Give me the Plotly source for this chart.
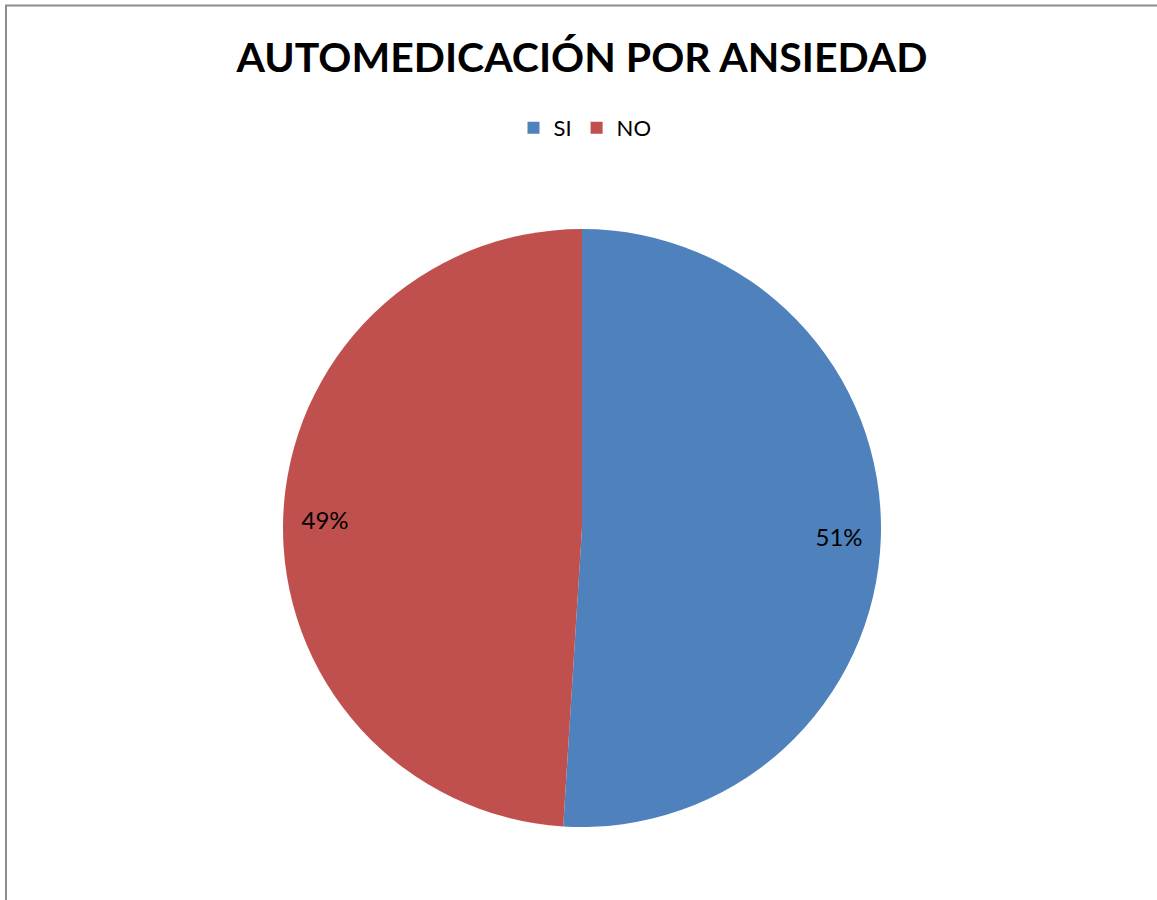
import plotly.graph_objects as go

categories = ["SI", "NO"]
values = [51, 49]
colors = ["#4F81BD", "#C0504D"]
title_text = "AUTOMEDICACIÓN POR ANSIEDAD"

W, H = 1157, 900
FONT = "Lato, Carlito, sans-serif"
dom = dict(x=[283 / W, 881 / W], y=[1 - 827 / H, 1 - 229 / H])

fig = go.Figure()
# Filled pie
fig.add_trace(go.Pie(
    labels=categories,
    values=values,
    marker=dict(colors=colors, line=dict(width=0)),
    sort=False,
    direction="clockwise",
    rotation=0,
    textinfo="none",
    domain=dom,
    hoverinfo="label+percent",
))
# Transparent ring carrying the percent labels near the outer edge
fig.add_trace(go.Pie(
    labels=categories,
    values=values,
    hole=0.72,
    marker=dict(colors=["rgba(0,0,0,0)", "rgba(0,0,0,0)"], line=dict(width=0)),
    sort=False,
    direction="clockwise",
    rotation=0,
    texttemplate="%{percent:.0%}",
    textposition="inside",
    insidetextorientation="horizontal",
    textfont=dict(family=FONT, size=24, color="black"),
    domain=dom,
    showlegend=False,
    hoverinfo="skip",
))

fig.update_layout(
    width=W, height=H,
    margin=dict(l=0, r=0, t=0, b=0),
    paper_bgcolor="white",
    plot_bgcolor="white",
    title=dict(
        text=f"<b>{title_text}</b>",
        x=582 / W, xanchor="center",
        y=1 - 58 / H, yanchor="middle",
        font=dict(family=FONT, size=41, color="black"),
    ),
    showlegend=True,
    legend=dict(
        orientation="h",
        x=585 / W, xanchor="center",
        y=1 - 128 / H, yanchor="middle",
        font=dict(family=FONT, size=22, color="black"),
        itemwidth=30,
        traceorder="normal",
    ),
    uniformtext=dict(minsize=24, mode="show"),
    shapes=[dict(
        type="rect", xref="paper", yref="paper",
        x0=6 / W, x1=1.05, y0=-0.05, y1=1 - 5.5 / H,
        line=dict(color="#8C8C8C", width=2),
        fillcolor="rgba(0,0,0,0)",
        layer="above",
    )],
)

fig.write_html(
    "out.html",
    config={"displayModeBar": False},
    post_script="document.body.style.margin='0';document.body.style.overflow='hidden';",
)
